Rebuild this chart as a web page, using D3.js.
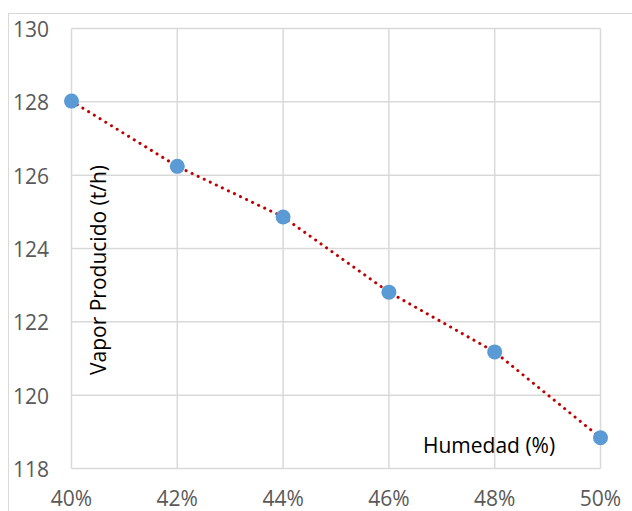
<!DOCTYPE html>
<html>
<head>
<meta charset="utf-8">
<script src="https://cdn.jsdelivr.net/npm/d3@7"></script>
<style>
body { margin:0; background:#fff; }
text { font-family: "Open Sans", "Noto Sans", sans-serif; }
</style>
</head>
<body>
<svg width="632" height="511"></svg>
<script>
// humedad vs vapor producido
var humedad = [0.40, 0.42, 0.44, 0.46, 0.48, 0.50]
var vapor = [128.02, 126.24, 124.86, 122.81, 121.18, 118.84]
var yTicks = [118, 120, 122, 124, 126, 128, 130]
var xTicks = [0.40, 0.42, 0.44, 0.46, 0.48, 0.50]

var svg = d3.select("svg")

// chart border
svg.append("rect")
    .attr("x",8.5).attr("y",13.5)
    .attr("width",640).attr("height",520)
    .attr("fill","none")
    .attr("stroke","#d9d9d9")
    .attr("stroke-width",1)

var plot = {left:71.5, right:600.5, top:28.5, bottom:468.5}

var xScale = d3.scaleLinear()
    .domain([0.40,0.50])
    .range([plot.left,plot.right])

var yScale = d3.scaleLinear()
    .domain([118,130])
    .range([plot.bottom,plot.top])

//gridlines
svg.append("g")
    .selectAll("line")
    .data(yTicks)
    .enter()
    .append("line")
    .attr("x1",plot.left).attr("x2",plot.right)
    .attr("y1",function(d){return yScale(d)})
    .attr("y2",function(d){return yScale(d)})
    .style("stroke","#d9d9d9")
    .style("stroke-width",1.5)

svg.append("g")
    .selectAll("line")
    .data(xTicks)
    .enter()
    .append("line")
    .attr("y1",plot.top).attr("y2",plot.bottom)
    .attr("x1",function(d){return xScale(d)})
    .attr("x2",function(d){return xScale(d)})
    .style("stroke","#d9d9d9")
    .style("stroke-width",1.5)

//tick labels
svg.append("g")
    .selectAll("text")
    .data(yTicks)
    .enter()
    .append("text")
    .attr("x",13)
    .attr("y",function(d){return yScale(d)})
    .attr("dy","0.4em")
    .style("font-size","21px")
    .style("fill","#595959")
    .text(function(d){return d})

svg.append("g")
    .selectAll("text")
    .data(xTicks)
    .enter()
    .append("text")
    .attr("x",function(d){return xScale(d)})
    .attr("y",506)
    .attr("text-anchor","middle")
    .style("font-size","21px")
    .style("fill","#595959")
    .text(d3.format(".0%"))

//dotted trend line
var line = d3.line()
    .x(function(d,i){return xScale(humedad[i])})
    .y(function(d){return yScale(d)})

svg.append("path")
    .datum(vapor)
    .attr("d",line)
    .attr("fill","none")
    .style("stroke","#c00000")
    .style("stroke-width",3)
    .style("stroke-linecap","round")
    .style("stroke-dasharray","0.1 6.6")

//points
svg.append("g")
    .selectAll("circle")
    .data(vapor)
    .enter()
    .append("circle")
    .attr("cx",function(d,i){return xScale(humedad[i])})
    .attr("cy",function(d){return yScale(d)})
    .attr("r",7.5)
    .attr("fill","#5b9bd5")

//axis titles
svg.append("text")
    .attr("transform","translate(106,270) rotate(-90)")
    .attr("text-anchor","middle")
    .style("font-size","21px")
    .style("fill","#000")
    .text("Vapor Producido (t/h)")

svg.append("text")
    .attr("x",423)
    .attr("y",453)
    .style("font-size","21px")
    .style("fill","#000")
    .text("Humedad (%)")
</script>
</body>
</html>
